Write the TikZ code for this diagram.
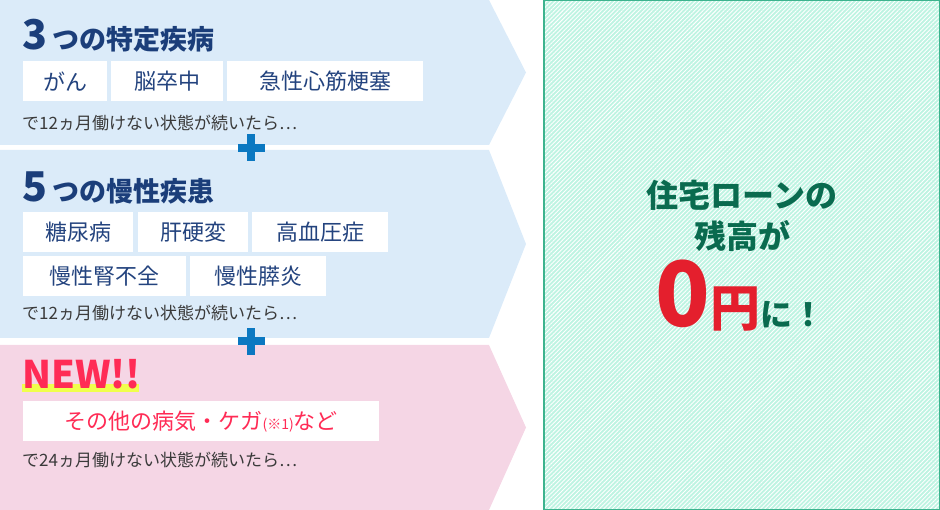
\documentclass[tikz,border=0pt]{standalone}
\usepackage{fontspec}
\setmainfont{Noto Sans CJK JP}
\usetikzlibrary{patterns.meta}

\begin{document}
\begin{tikzpicture}[x=1pt,y=-1pt,
  tag/.style={fill=white,inner sep=0,minimum height=40pt,anchor=north west,text=mycolor23437E,font=\fontsize{22pt}{26pt}\selectfont},
  note/.style={anchor=west,inner sep=0,text=mycolor3A3A3A,font=\fontsize{17pt}{20pt}\selectfont},
  head/.style={anchor=base west,inner sep=0,text=mycolor1B3E7A,font=\bfseries}]
\definecolor{mycolorDBEBF9}{RGB}{219,235,249}
\definecolor{mycolorF5D6E5}{RGB}{245,214,229}
\definecolor{mycolor1B3E7A}{RGB}{27,62,122}
\definecolor{mycolor23437E}{RGB}{35,67,126}
\definecolor{mycolor3A3A3A}{RGB}{58,58,58}
\definecolor{mycolor0B78C1}{RGB}{11,120,193}
\definecolor{mycolorFF2B55}{RGB}{255,43,85}
\definecolor{mycolorF0FF4C}{RGB}{240,255,76}
\definecolor{mycolor0A6B4F}{RGB}{10,107,79}
\definecolor{mycolor3DB38E}{RGB}{61,179,142}
\definecolor{mycolorBEF4E2}{RGB}{190,244,226}
\definecolor{mycolorE41F2D}{RGB}{228,31,45}
\useasboundingbox (0,0) rectangle (940,510);
\begin{scope}
\fill[mycolorDBEBF9] (0,0) -- (489,0) -- (526,72.5) -- (489,145) -- (0,145) -- cycle;
\fill[mycolorDBEBF9] (0,150) -- (489,150) -- (526,244) -- (489,338) -- (0,338) -- cycle;
\fill[mycolorF5D6E5] (0,345) -- (489,345) -- (526,427.5) -- (489,510) -- (0,510) -- cycle;
\end{scope}
\begin{scope}
\fill[mycolor0B78C1] (237.5,144) rectangle (264.5,152);
\fill[mycolor0B78C1] (247,134.5) rectangle (255,161.5);
\fill[mycolor0B78C1] (237.5,337.5) rectangle (264.5,345.5);
\fill[mycolor0B78C1] (247,328) rectangle (255,355);
\end{scope}
\begin{scope}
\node[head] (title1) at (22,50) {{\fontsize{41pt}{44pt}\selectfont 3}\hspace{5pt}{\fontsize{27pt}{30pt}\selectfont つの特定疾病}};
\node[tag,minimum width=84pt] (gan) at (23,61) {がん};
\node[tag,minimum width=112pt] (noso) at (111,61) {脳卒中};
\node[tag,minimum width=196pt] (shinkin) at (227,61) {急性心筋梗塞};
\node[note] (cond1) at (22,123) {で12ヵ月働けない状態が続いたら…};
\end{scope}
\begin{scope}
\node[head] (title2) at (22,202) {{\fontsize{41pt}{44pt}\selectfont 5}\hspace{5pt}{\fontsize{27pt}{30pt}\selectfont つの慢性疾患}};
\node[tag,minimum width=110pt] (tonyo) at (23,212) {糖尿病};
\node[tag,minimum width=110pt] (kanko) at (138,212) {肝硬変};
\node[tag,minimum width=136pt] (koketsu) at (252,212) {高血圧症};
\node[tag,minimum width=163pt] (jinfuzen) at (23,256) {慢性腎不全};
\node[tag,minimum width=136pt] (suien) at (190,256) {慢性膵炎};
\node[note] (cond2) at (22,313) {で12ヵ月働けない状態が続いたら…};
\end{scope}
\begin{scope}
\fill[mycolorF0FF4C] (22,384) rectangle (139,392);
\node[head,text=mycolorFF2B55] (new) at (22,389) {\fontsize{38pt}{42pt}\selectfont NEW!!};
\node[tag,minimum width=356pt,text=mycolorFF2B55] (sonota) at (23,401) {その他の病気・ケガ{\fontsize{14pt}{16pt}\selectfont (※1)}など};
\node[note] (cond3) at (22,460) {で24ヵ月働けない状態が続いたら…};
\end{scope}
\begin{scope}
\path[fill=mycolorBEF4E2] (543.75,0.75) rectangle (939.25,509.25);
\path[pattern={Lines[angle=45,distance=3pt,line width=0.9pt]},pattern color=white] (543.75,0.75) rectangle (939.25,509.25);
\draw[mycolor3DB38E,line width=1.5pt] (543.75,0.75) rectangle (939.25,509.25);
\node[text=mycolor0A6B4F,font=\bfseries\fontsize{32pt}{36pt}\selectfont,inner sep=0] (loan) at (742,195) {住宅ローンの};
\node[text=mycolor0A6B4F,font=\bfseries\fontsize{32pt}{36pt}\selectfont,inner sep=0] (zandaka) at (742,236) {残高が};
\node[anchor=base,inner sep=0,font=\bfseries] (zero) at (740,327) {{\fontsize{90pt}{96pt}\selectfont\color{mycolorE41F2D}0}{\fontsize{50pt}{54pt}\selectfont\color{mycolorE41F2D}円}{\fontsize{32pt}{36pt}\selectfont\color{mycolor0A6B4F}に！}};
\end{scope}
\end{tikzpicture}
\end{document}
